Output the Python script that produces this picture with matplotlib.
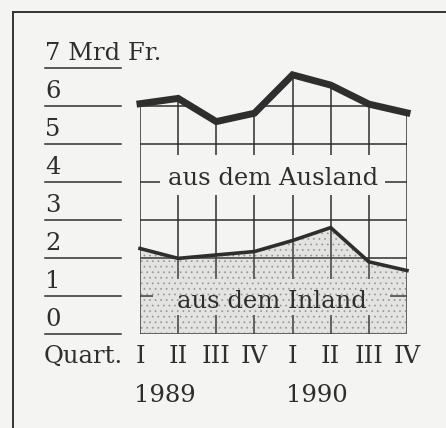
import matplotlib
matplotlib.use("Agg")
import matplotlib.pyplot as plt
from matplotlib.patches import Rectangle, Polygon
from matplotlib.lines import Line2D

# data (Mrd Fr. per quarter)
quarters = ["I", "II", "III", "IV", "I", "II", "III", "IV"]
years = ["1989", "1990"]
total = [6.06, 6.20, 5.59, 5.81, 6.82, 6.55, 6.05, 5.82]   # Inland + Ausland
inland = [2.25, 1.99, 2.08, 2.17, 2.46, 2.80, 1.90, 1.67]
yticks = [0, 1, 2, 3, 4, 5, 6, 7]
unit = "Mrd Fr."

BG = "#f4f4f2"
INK = "#2e2e2e"
plt.rcParams["font.family"] = ["DejaVu Serif"]
plt.rcParams["hatch.linewidth"] = 0.6

W, H = 446, 428
PX_X, PX_Y = 38.14, 38.0      # pixels per quarter / per Mrd
X0, Y0 = 140, 334             # pixel of first quarter / of value 0

fig = plt.figure(figsize=(W / 100, H / 100), dpi=100, facecolor=BG)
ax = fig.add_axes([0, 0, 1, 1])
ax.set_facecolor(BG)
ax.set_xlim(-X0 / PX_X, (W - X0) / PX_X)
ax.set_ylim((Y0 - H) / PX_Y, Y0 / PX_Y)
ax.axis("off")

x = list(range(len(quarters)))
n = len(x) - 1
fs = 17.5

# clip region below the upper curve
clip = Polygon([(0, 0)] + list(zip(x, total)) + [(n, 0)], closed=True,
               transform=ax.transData, fill=False, lw=0)

grid_kw = dict(color=INK, lw=1.1, zorder=1)
vl = ax.vlines(x, 0, max(total) + 1, **grid_kw)
vl.set_clip_path(clip)
hl = ax.hlines(yticks[:-1], 0, n, **grid_kw)
hl.set_clip_path(clip)

# gaps in the grid behind the labels
ax.add_patch(Rectangle((0.52, 3.66), 5.9, 1.05, fc=BG, ec="none", zorder=2))
ax.add_patch(Rectangle((0.34, 0.50), 6.21, 0.95, fc=BG, ec="none", zorder=2))

ax.fill_between(x, 0, inland, facecolor=(0.55, 0.55, 0.55, 0.16),
                edgecolor=(0.45, 0.45, 0.45, 0.55), hatch="...", lw=0, zorder=3)

ax.plot(x, total, color=INK, lw=5, solid_joinstyle="miter", zorder=5)
ax.plot(x, inland, color=INK, lw=2.6, solid_joinstyle="miter", zorder=5)

ax.text(3.5, 3.93, "aus dem Ausland", ha="center", va="baseline", fontsize=fs, color=INK, zorder=6)
ax.text(3.47, 0.68, "aus dem Inland", ha="center", va="baseline", fontsize=fs, color=INK, zorder=6)

# left scale: label above a short rule
lx0, lx1 = -2.49, -0.50
for v in yticks:
    ax.plot([lx0, lx1], [v, v], color=INK, lw=1.1)
    lab = f"{v} {unit}" if v == yticks[-1] else str(v)
    ax.text(lx0, v + 0.21, lab, ha="left", va="baseline", fontsize=fs, color=INK)

ax.text(lx0 - 0.03, -0.76, "Quart.", ha="left", va="baseline", fontsize=fs, color=INK)
for i, q in zip(x, quarters):
    ax.text(i, -0.76, q, ha="center", va="baseline", fontsize=fs, color=INK)
for i, yr in zip([0.64, 4.64], years):
    ax.text(i, -1.79, yr, ha="center", va="baseline", fontsize=fs, color=INK)

# frame (top and left edges only)
fig.add_artist(Line2D([13 / W, 1], [1 - 12 / H] * 2, transform=fig.transFigure, color="#333", lw=1.4))
fig.add_artist(Line2D([13 / W] * 2, [0, 1 - 12 / H], transform=fig.transFigure, color="#333", lw=1.4))

fig.savefig("out.png", dpi=100, facecolor=BG)
